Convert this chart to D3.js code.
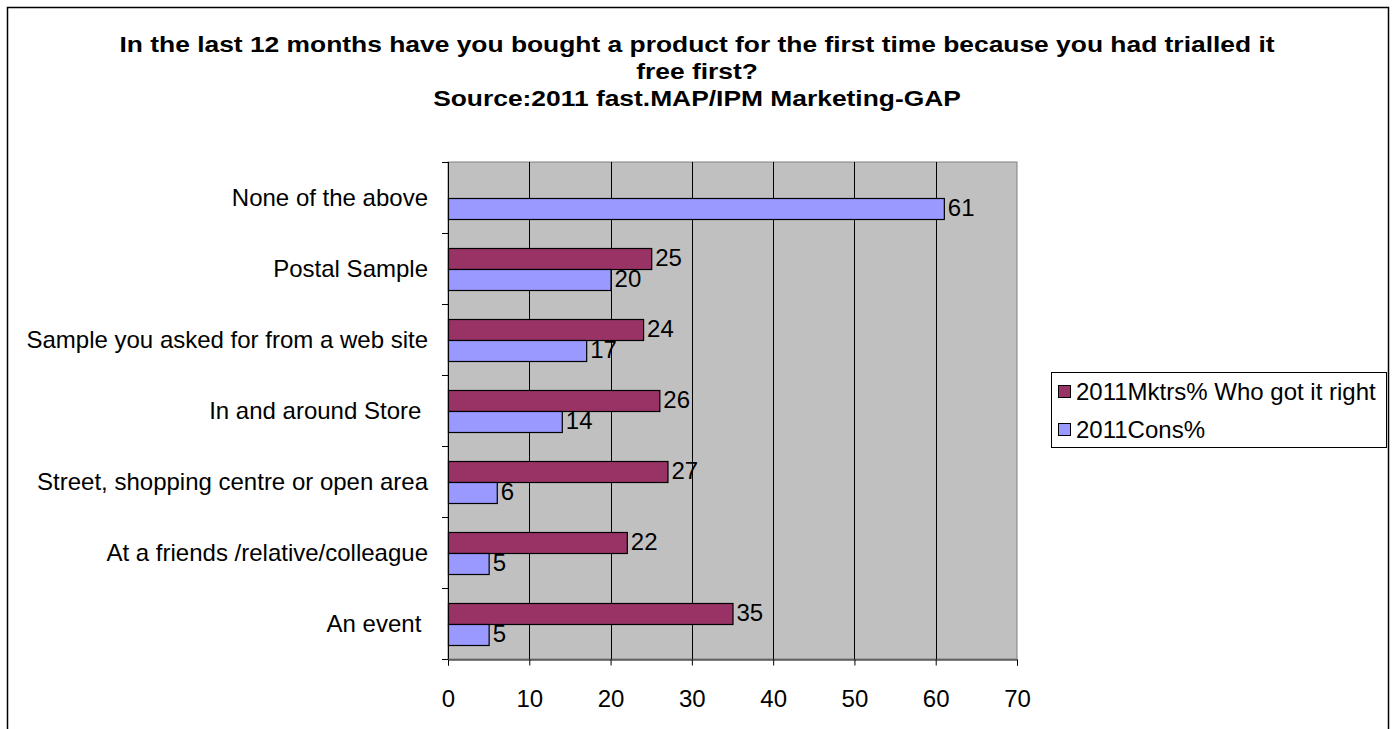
<!DOCTYPE html>
<html>
<head>
<meta charset="utf-8">
<script src="https://cdn.jsdelivr.net/npm/d3@7"></script>
<style>
  html, body { margin: 0; padding: 0; background: #fff; }
  svg text { font-family: "Liberation Sans", Arial, sans-serif; }
</style>
</head>
<body>
<svg id="chart" width="1395" height="729"></svg>
<script>
// Categories listed top to bottom
const categories = [
  "None of the above",
  "Postal Sample",
  "Sample you asked for from a web site",
  "In and around Store ",
  "Street, shopping centre or open area",
  "At a friends /relative/colleague",
  "An event "
];
const seriesNames = ["2011Mktrs% Who got it right", "2011Cons%"];
const mktrs = [null, 25, 24, 26, 27, 22, 35];
const cons = [61, 20, 17, 14, 6, 5, 5];
const xTicks = [0, 10, 20, 30, 40, 50, 60, 70];
const titleLines = [
  "In the last 12 months have you bought a product for the first time because you had trialled it",
  "free first?",
  "Source:2011 fast.MAP/IPM Marketing-GAP"
];
const colors = ["#993366", "#9999FF"];

const svg = d3.select("#chart");

// outer frame
svg.append("rect")
  .attr("x", 7.5).attr("y", 7.5)
  .attr("width", 1381).attr("height", 740)
  .attr("fill", "#fff").attr("stroke", "#000").attr("stroke-width", 1.5);

// title (wide bold face)
svg.append("g").selectAll("text")
  .data(titleLines).join("text")
  .attr("transform", (d, i) => `translate(697,${52 + i * 27}) scale(1.2,1)`)
  .attr("text-anchor", "middle")
  .attr("font-weight", "bold")
  .attr("font-size", 22)
  .text(d => d);

const plot = { left: 448, right: 1017, top: 162, bottom: 659 };

const x = d3.scaleLinear().domain([0, 70]).range([plot.left, plot.right]);
const y = d3.scaleBand().domain(categories).range([plot.top, plot.bottom]);
const barH = 21;

// plot background
svg.append("rect")
  .attr("x", plot.left).attr("y", plot.top)
  .attr("width", plot.right - plot.left).attr("height", plot.bottom - plot.top)
  .attr("fill", "#C0C0C0").attr("stroke", "#808080").attr("stroke-width", 1);

// vertical gridlines
svg.append("g").selectAll("line")
  .data(xTicks.slice(1, -1)).join("line")
  .attr("x1", d => Math.round(x(d)) + 0.5).attr("x2", d => Math.round(x(d)) + 0.5)
  .attr("y1", plot.top).attr("y2", plot.bottom)
  .attr("stroke", "#000").attr("stroke-width", 1);

// x axis
const xAxis = svg.append("g")
  .attr("transform", `translate(0,${plot.bottom + 0.5})`)
  .call(d3.axisBottom(x).tickValues(xTicks).tickSize(6).tickPadding(24).tickFormat(d3.format("d")));
xAxis.select(".domain").attr("stroke", "#000");
xAxis.selectAll(".tick line").attr("stroke", "#000");
xAxis.selectAll("text").attr("font-size", 24).attr("fill", "#000")
  .style("font-family", '"Liberation Sans", Arial, sans-serif');

// y axis line with ticks on category boundaries
const yAxisG = svg.append("g");
yAxisG.append("line")
  .attr("x1", plot.left + 0.5).attr("x2", plot.left + 0.5)
  .attr("y1", plot.top).attr("y2", plot.bottom)
  .attr("stroke", "#000");
const bounds = d3.range(categories.length + 1).map(i => plot.top + i * y.step());
yAxisG.selectAll("line.tick").data(bounds).join("line")
  .attr("class", "tick")
  .attr("x1", plot.left - 6).attr("x2", plot.left)
  .attr("y1", d => Math.round(d) + 0.5).attr("y2", d => Math.round(d) + 0.5)
  .attr("stroke", "#000");

// category labels
svg.append("g").selectAll("text")
  .data(categories).join("text")
  .attr("x", 428)
  .attr("y", d => y(d) + y.bandwidth() / 2)
  .attr("dy", "0.35em")
  .attr("text-anchor", "end")
  .attr("font-size", 24)
  .style("white-space", "pre")
  .text(d => d);

// bars
const series = [mktrs, cons];
series.forEach((vals, si) => {
  const rows = categories.map((c, i) => ({ c, v: vals[i] })).filter(d => d.v != null);
  const yOff = c => y(c) + y.bandwidth() / 2 - barH + si * barH;
  svg.append("g").selectAll("rect")
    .data(rows).join("rect")
    .attr("x", x(0) + 0.5)
    .attr("y", d => Math.round(yOff(d.c)) + 0.5)
    .attr("width", d => x(d.v) - x(0))
    .attr("height", barH)
    .attr("fill", colors[si])
    .attr("stroke", "#000").attr("stroke-width", 1.2);
  svg.append("g").selectAll("text")
    .data(rows).join("text")
    .attr("x", d => x(d.v) + 4)
    .attr("y", d => yOff(d.c) + barH / 2)
    .attr("dy", "0.35em")
    .attr("font-size", 24)
    .text(d => d.v);
});

// legend
const lg = svg.append("g");
lg.append("rect")
  .attr("x", 1051.5).attr("y", 372.5).attr("width", 335).attr("height", 75)
  .attr("fill", "#fff").attr("stroke", "#000");
seriesNames.forEach((name, i) => {
  const cy = 392 + i * 38;
  lg.append("rect")
    .attr("x", 1058.5).attr("y", cy - 6.5).attr("width", 12).attr("height", 12)
    .attr("fill", colors[i]).attr("stroke", "#000");
  lg.append("text")
    .attr("x", 1076).attr("y", cy).attr("dy", "0.35em")
    .attr("font-size", 24)
    .text(name);
});
</script>
</body>
</html>
